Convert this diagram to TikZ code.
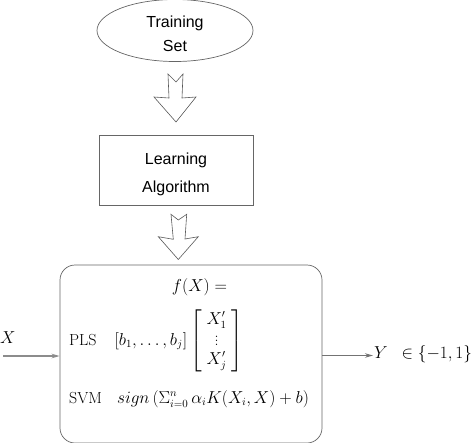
\documentclass[tikz,border=0pt]{standalone}
\usepackage{amsmath}
\usepackage{fontspec}
\newfontfamily\sansf{Liberation Sans}
\usetikzlibrary{shapes.geometric,arrows.meta}
\begin{document}
\begin{tikzpicture}[x=1pt,y=-1pt,
  frame/.style={draw=black!60, line width=0.7pt},
  hollow/.style={draw=black!65, line width=0.6pt, line join=miter, fill=white},
  sanslabel/.style={font=\sansf\fontsize{16}{24.4}\selectfont, align=center, inner sep=0pt},
  mathlabel/.style={font=\fontsize{16}{19}\selectfont, inner sep=0pt},
  flowin/.style={draw=black!45, line width=1.6pt, -{Stealth[length=8pt,width=4.5pt]}},
  flowout/.style={draw=black!55, line width=1.1pt, -{Stealth[length=8pt,width=4.5pt]}}]
\useasboundingbox (0,0) rectangle (474,442);

% Training set
\node[frame, ellipse, minimum width=156pt, minimum height=62pt, inner sep=0pt] (ts) at (175,30.5) {};
\node[sanslabel] (tstext) at (175,33.75) {Training\\Set};

% hollow arrow 1
\draw[hollow] (168,74) -- (176,82) -- (183,74) -- (182,98) -- (196,97) -- (176,122) -- (154,97) -- (169,98) -- cycle;

% Learning algorithm
\node[frame, rectangle, minimum width=154pt, minimum height=70pt, inner sep=0pt] (la) at (176,170) {};
\node[sanslabel, font=\sansf\fontsize{16}{28}\selectfont] (latext) at (176,174) {Learning\\Algorithm};

% hollow arrow 2
\draw[hollow] (171,214.3) -- (178.3,220) -- (186.7,214.3) -- (185,239) -- (198.3,236.7) -- (178.3,259.5) -- (158.3,236.7) -- (173.3,239.3) -- cycle;

% function box
\node[frame, rectangle, rounded corners=15pt, minimum width=262pt, minimum height=178pt, inner sep=0pt] (fb) at (191,354) {};

\node[mathlabel, anchor=base] (fx) at (199.5,291) {$f(X) =$};
\node[mathlabel, anchor=base west] (pls) at (69,345) {PLS\hspace{18pt}$[b_1,\dots,b_j]\left[\begin{array}{c}X'_1\\ \vdots\\ X'_j\end{array}\right]$};
\node[mathlabel, anchor=base west] (svm) at (69,403) {SVM\hspace{15pt}$sign\,(\Sigma_{i=0}^n\,\alpha_i K(X_i,X)+b)$};

% input / output
\node[mathlabel, anchor=base west] (xlab) at (0,343) {$X$};
\coordinate (xin) at (3,356);
\draw[flowin] (xin) -- (xin -| fb.west);

\node[mathlabel, anchor=base west] (ylab) at (374,358) {$Y\hspace{9pt}\in \{-1,1\}$};
\coordinate (yout) at (373,355.5);
\draw[flowout] (fb.east |- yout) -- (yout);
\end{tikzpicture}
\end{document}
